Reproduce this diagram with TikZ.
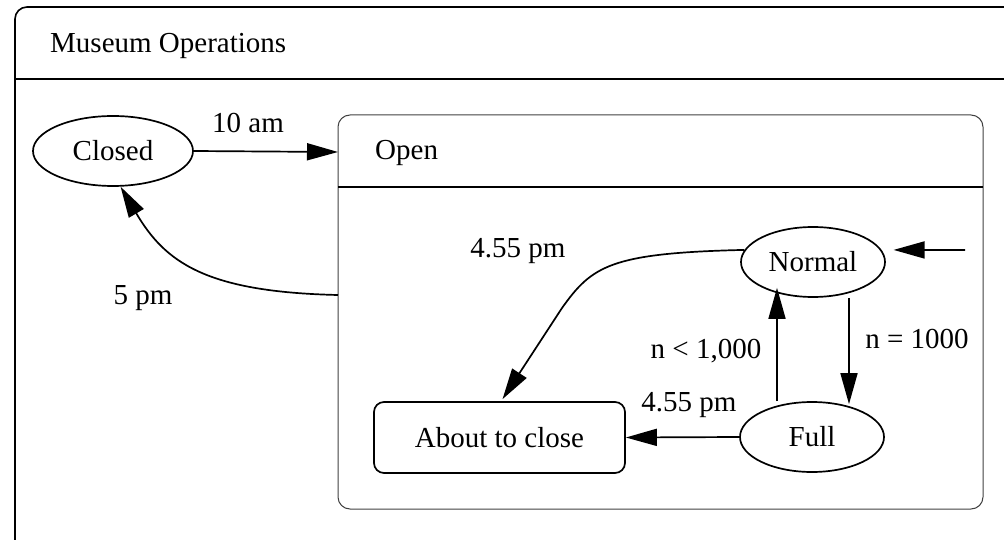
\documentclass[tikz,border=0pt]{standalone}
\usepackage{fontspec}
\setmainfont{Liberation Serif}
\usetikzlibrary{shapes.geometric,arrows.meta}
\begin{document}
\begin{tikzpicture}[x=1pt,y=-1pt,
  every node/.style={font=\fontsize{29}{33}\selectfont},
  statenode/.style={ellipse,draw,line width=1.7pt,minimum width=144pt,minimum height=70pt,inner sep=0pt},
  boxnode/.style={rectangle,rounded corners=10pt,draw,line width=1.7pt,minimum width=251pt,minimum height=71pt,inner sep=0pt},
  arr/.style={line width=1.7pt,-{Triangle[length=31pt,width=17pt]}},
  lbl/.style={anchor=base,inner sep=0pt},
  frame/.style={line width=1.6pt,rounded corners=12pt}]
\useasboundingbox (0,0) rectangle (1004,540);
\clip (0,0) rectangle (1004,540);
% outer composite state
\draw[frame] (15,7) rectangle (1040,580);
\draw[line width=1.6pt] (15,79) -- (1040,79);
\node[anchor=base west,inner sep=0pt] (title) at (50,53) {Museum Operations};
% Open composite state
\draw[line width=1pt,black!75,rounded corners=12pt] (338,115) rectangle (983,509);
\draw[line width=1.6pt] (338,187) -- (983,187);
\node[anchor=base west,inner sep=0pt] (opentitle) at (375,160) {Open};
\coordinate (openin) at (338,152);
\coordinate (openout) at (338,295);
\coordinate (initstart) at (965,250);
% states
\node[statenode,minimum width=160pt] (closed) at (113,151) {Closed};
\node[statenode] (normal) at (813,262) {Normal};
\node[statenode] (full) at (812,437) {Full};
\node[boxnode] (about) at (499.5,437.5) {About to close};
% transitions
\draw[arr] (closed.east) -- (openin);
\draw[arr] (openout) .. controls (205,292) and (165,262) .. (closed.-78);
\draw[arr,shorten >=12pt] (initstart) -- (normal.10);
\draw[arr] ([xshift=36pt]normal.south) -- ([xshift=37pt,yshift=-3pt]full.north);
\draw[arr] ([xshift=-35pt]full.north) -- ([xshift=-36pt,yshift=10pt]normal.south);
\draw[arr] (full.west) -- (about.east);
\draw[arr] (normal.170) .. controls (610,253) and (592,266) .. (562,308) -- ([xshift=3pt,yshift=2pt]about.north);
% labels
\node[lbl] (l10am) at (248,133) {10 am};
\node[lbl] (l5pm) at (143,304) {5 pm};
\node[lbl] (l455a) at (518,258) {4.55 pm};
\node[lbl] (lless) at (706,358) {n < 1,000};
\node[lbl] (leq) at (917,348) {n = 1000};
\node[lbl] (l455b) at (689,411) {4.55 pm};
\end{tikzpicture}
\end{document}
